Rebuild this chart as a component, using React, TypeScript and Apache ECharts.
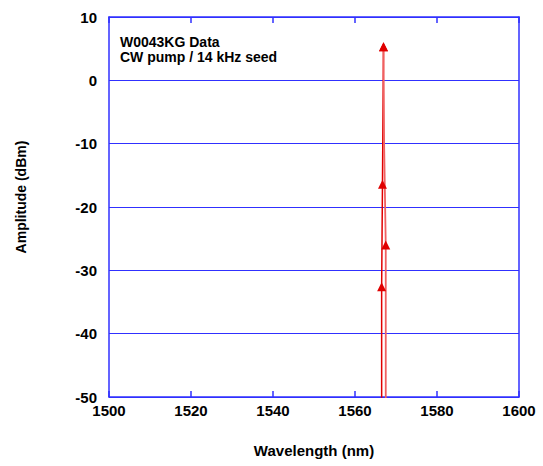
import React, { useEffect, useRef } from "react";
import * as echarts from "echarts";

const riseData: [number, number][] = [
  [1566.5, -55],
  [1566.5, -32.6],
  [1566.6, -24.5],
  [1566.7, -16.4],
  [1566.95, 5.3],
];
const riseMarked = [false, true, false, true, true];
const fallData: [number, number][] = [
  [1566.95, 5.3],
  [1567.1, -10],
  [1567.5, -26],
  [1567.5, -55],
];
const fallMarked = [true, false, true, false];
const xTicks = [1500, 1520, 1540, 1560, 1580, 1600];
const yTicks = [-50, -40, -30, -20, -10, 0, 10];
const titleLines = ["W0043KG Data", "CW pump / 14 kHz seed"];
const xName = "Wavelength (nm)";
const yName = "Amplitude (dBm)";

const BLUE = "#3030ff";
const FONT = "'Liberation Sans', Arial, Helvetica, sans-serif";

export default function App() {
  const ref = useRef<HTMLDivElement>(null);
  useEffect(() => {
    if (!ref.current) return;
    const chart = echarts.init(ref.current, null, { renderer: "svg" });
    const mk = (d: [number, number][], m: boolean[]) =>
      d.map((p, i) => ({ value: p, symbol: m[i] ? "triangle" : "none" }));
    chart.setOption({
      animation: false,
      backgroundColor: "#ffffff",
      grid: { left: 109, right: 24, top: 17, bottom: 69, show: false },
      xAxis: [
        {
          type: "value",
          min: xTicks[0],
          max: xTicks[xTicks.length - 1],
          interval: 20,
          name: xName,
          nameLocation: "middle",
          nameGap: 46,
          nameTextStyle: { fontFamily: FONT, fontWeight: "bold", fontSize: 15, color: "#000" },
          axisLine: { show: true, onZero: false, lineStyle: { color: BLUE, width: 1.5 } },
          axisTick: { show: true, inside: true, length: 6, lineStyle: { color: BLUE, width: 1.5 } },
          axisLabel: {
            fontFamily: FONT,
            fontWeight: "bold",
            fontSize: 15,
            color: "#000",
            margin: 6,
            formatter: (v: number) => String(v),
          },
          splitLine: { show: false },
        },
        {
          type: "value",
          position: "top",
          min: xTicks[0],
          max: xTicks[xTicks.length - 1],
          interval: 20,
          axisLine: { show: true, onZero: false, lineStyle: { color: BLUE, width: 1.5 } },
          axisTick: { show: true, inside: true, length: 6, lineStyle: { color: BLUE, width: 1.5 } },
          axisLabel: { show: false },
          splitLine: { show: false },
        },
      ],
      yAxis: [
        {
          type: "value",
          min: yTicks[0],
          max: yTicks[yTicks.length - 1],
          interval: 10,
          axisLine: { show: true, onZero: false, lineStyle: { color: BLUE, width: 1.5 } },
          axisTick: { show: false },
          axisLabel: {
            fontFamily: FONT,
            fontWeight: "bold",
            fontSize: 15,
            color: "#000",
            margin: 12,
            formatter: (v: number) => String(v),
          },
          splitLine: { show: true, lineStyle: { color: BLUE, width: 1 } },
        },
        {
          type: "value",
          position: "right",
          min: yTicks[0],
          max: yTicks[yTicks.length - 1],
          interval: 10,
          axisLine: { show: true, onZero: false, lineStyle: { color: BLUE, width: 1.5 } },
          axisTick: { show: false },
          axisLabel: { show: false },
          splitLine: { show: false },
        },
      ],
      graphic: [
        ...titleLines.map((t, i) => ({
          type: "text",
          left: 120,
          top: 35 + i * 15,
          style: {
            text: t,
            fontFamily: FONT,
            fontWeight: "bold",
            fontSize: 14,
            fill: "#000",
          },
        })),
        {
          type: "text",
          x: 21,
          y: 197,
          rotation: Math.PI / 2,
          style: {
            text: yName,
            fontFamily: FONT,
            fontWeight: "bold",
            fontSize: 14,
            fill: "#000",
            align: "center",
            verticalAlign: "middle",
          },
        },
      ],
      series: [
        {
          type: "line",
          data: mk(riseData, riseMarked),
          clip: true,
          symbolSize: 9,
          lineStyle: { color: "#e00000", width: 1.5 },
          itemStyle: { color: "#e00000" },
        },
        {
          type: "line",
          data: mk(fallData, fallMarked),
          clip: true,
          symbolSize: 9,
          lineStyle: { color: "#f06060", width: 1.8 },
          itemStyle: { color: "#e00000" },
        },
      ],
    });
    return () => chart.dispose();
  }, []);
  return (
    <div
      ref={ref}
      style={{ position: "fixed", left: 0, top: 0, width: 543, height: 466 }}
    />
  );
}
